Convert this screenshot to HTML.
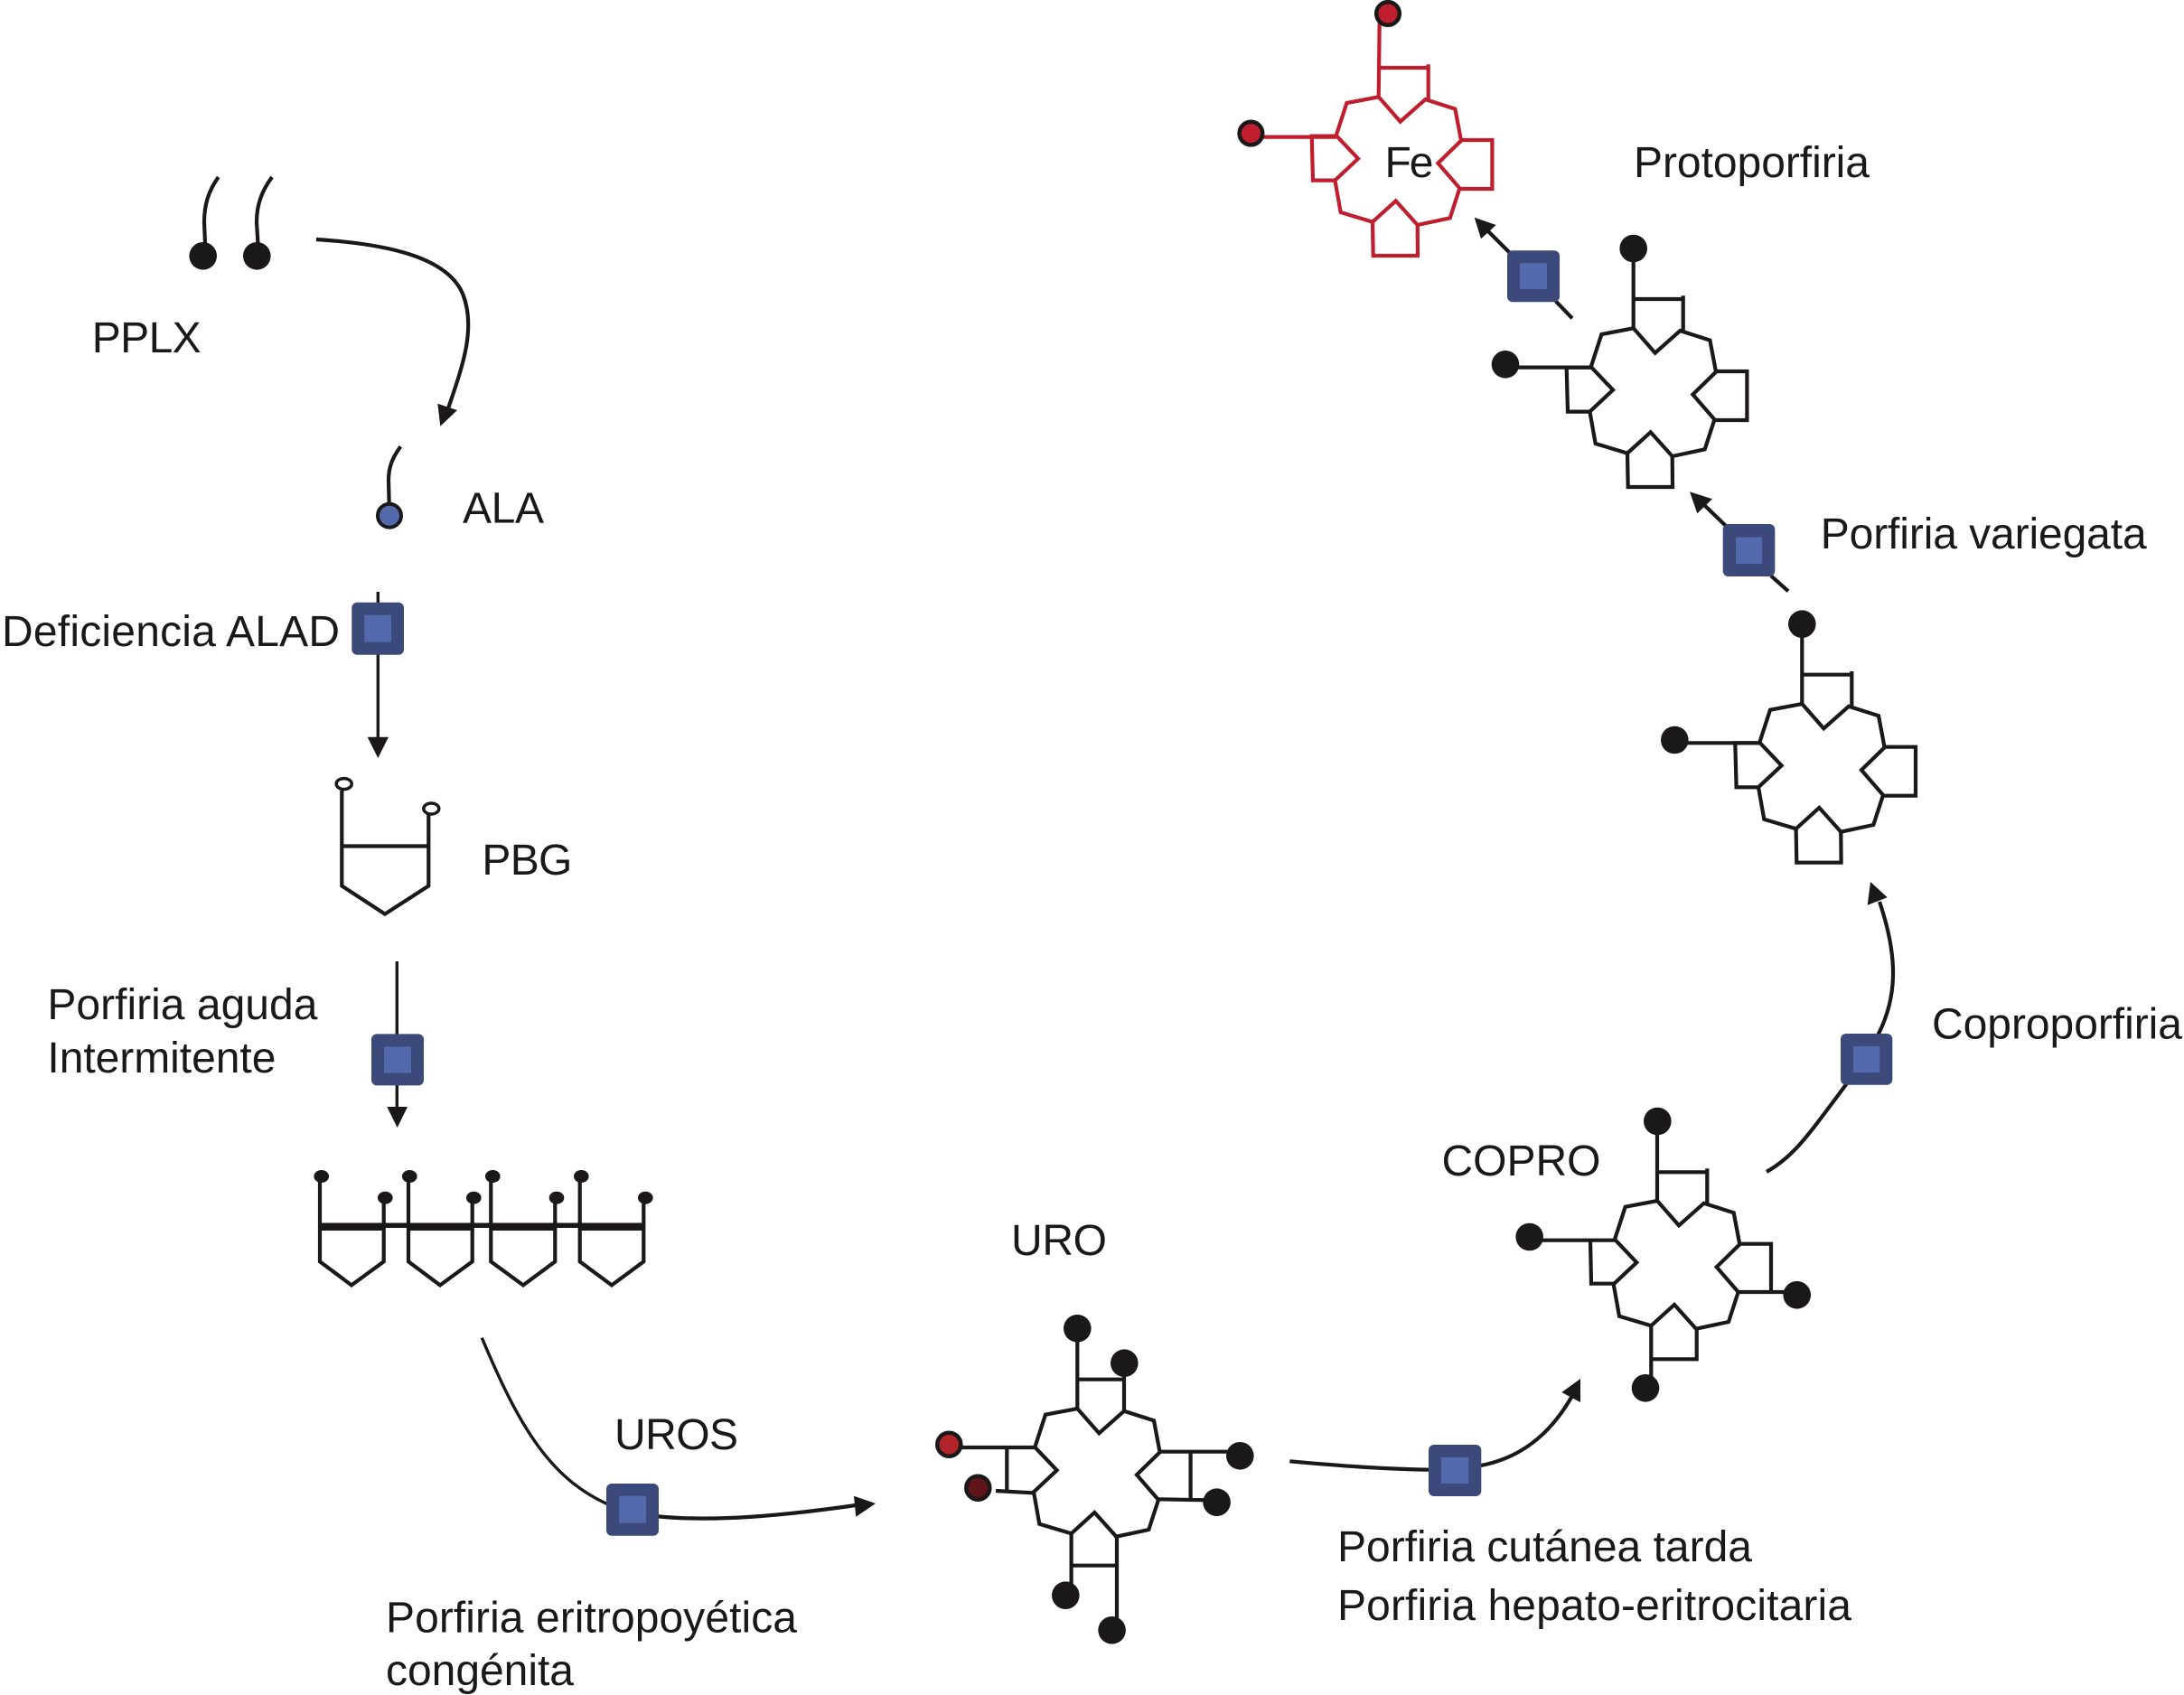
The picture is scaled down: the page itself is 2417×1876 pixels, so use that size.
<!DOCTYPE html>
<html>
<head>
<meta charset="utf-8">
<style>
html,body{margin:0;padding:0;background:#fff;}
svg{display:block;}
text{font-family:"Liberation Sans",sans-serif;font-size:48px;fill:#1a1818;}
.l{fill:none;stroke:#1a1818;stroke-width:4.2;stroke-linejoin:miter;}
.t{fill:none;stroke:#1a1818;stroke-width:3.4;}
.r{fill:none;stroke:#be1e2d;stroke-width:4.2;stroke-linejoin:miter;}
.d{fill:#1a1818;}
.o{fill:#3b4a7a;}
.i{fill:#5369ac;}
</style>
</head>
<body>
<svg width="2417" height="1876" viewBox="0 0 2417 1876" xmlns="http://www.w3.org/2000/svg">
<rect width="2417" height="1876" fill="#fff"/>
<defs>
<path id="ring" d="M0,0L24,27.3L51.7,2.7L84.7,13.3L91.3,48.3L65.7,73.3L89.7,101L79,134L43,141.7L19,115L-6.7,138.3L-42,127.7L-48.3,92.3L-22.7,68.3L-47,42.7L-35.3,6.7Z"/>
<path id="pend" d="M55,2.7V-36M0,-32.3H55M-47,43.3H-74L-72.7,92.3H-48.3M91.3,47.7H125.7V101.7H89.7M-6.7,138.3L-6,175.7H43.3L43,141.7"/>
</defs>

<!-- PPLX -->
<path class="l" d="M241.7,196C231,211 226,226 226,246L227,270"/>
<path class="l" d="M301,196C290,211 284,226 284,246L285.5,270"/>
<circle class="d" cx="224.7" cy="283.3" r="15.3"/>
<circle class="d" cx="284.3" cy="283.3" r="15.3"/>
<path class="l" d="M350,265C430,270 495,285 512,325C528,365 510,410 495,455"/>
<polygon class="d" points="484.3,446.7 506,454 487.3,471.7"/>
<text x="101.7" y="390" textLength="121">PPLX</text>

<!-- ALA -->
<path class="l" d="M443.3,494.3C434,507 430,517 430,532L430.7,558"/>
<circle cx="431" cy="570.7" r="13" fill="#5369ac" stroke="#1a1818" stroke-width="4"/>
<text x="512" y="578.3" textLength="90">ALA</text>

<!-- ALAD -->
<path class="t" d="M418.3,655V817"/>
<polygon class="d" points="406.7,815.7 430,815.7 418.3,839"/>
<rect class="o" x="389.3" y="666.7" width="57.7" height="58" rx="6"/>
<rect class="i" x="403.3" y="680.7" width="29.7" height="30"/>
<text x="2" y="715" textLength="374">Deficiencia ALAD</text>

<!-- PBG -->
<path class="l" d="M378.3,875V980.5L426,1011.6L474.3,980.5V900M378.3,936.5H474.3"/>
<ellipse cx="380.7" cy="867.6" rx="8.5" ry="6" fill="#fff" stroke="#1a1818" stroke-width="3.5"/>
<ellipse cx="477.3" cy="895" rx="8.5" ry="6" fill="#fff" stroke="#1a1818" stroke-width="3.5"/>
<text x="533.4" y="968" textLength="100">PBG</text>

<!-- PAI -->
<path class="t" d="M439.3,1064V1226"/>
<polygon class="d" points="428.3,1225 451,1225 439.7,1248"/>
<rect class="o" x="411" y="1144.4" width="58" height="57" rx="6"/>
<rect class="i" x="425" y="1158.5" width="30" height="29"/>
<text x="52.4" y="1128" textLength="299">Porfiria aguda</text>
<text x="52.4" y="1187" textLength="253">Intermitente</text>

<!-- tetrapyrrole -->
<path class="l" d="M354,1302V1396.3L389,1422.4L424.7,1396.3V1326"/>
<path class="l" d="M452,1302V1396.3L487,1422.4L522.7,1396.3V1326"/>
<path class="l" d="M543.3,1302V1396.3L579,1422.4L614.3,1396.3V1326"/>
<path class="l" d="M641.7,1302V1396.3L677,1422.4L712.3,1396.3V1326"/>
<rect class="d" x="354" y="1353.5" width="358" height="5.5"/>
<rect class="d" x="354" y="1354" width="71" height="8"/>
<rect class="d" x="452" y="1354" width="71" height="8"/>
<rect class="d" x="543.3" y="1354" width="71" height="8"/>
<rect class="d" x="641.7" y="1354" width="71" height="8"/>
<ellipse class="d" cx="355.7" cy="1302" rx="8.3" ry="7"/>
<ellipse class="d" cx="453.3" cy="1302" rx="8.3" ry="7"/>
<ellipse class="d" cx="545.3" cy="1302" rx="8.3" ry="7"/>
<ellipse class="d" cx="643.3" cy="1302" rx="8.3" ry="7"/>
<ellipse class="d" cx="426.3" cy="1325.7" rx="8.3" ry="7"/>
<ellipse class="d" cx="524.3" cy="1325.7" rx="8.3" ry="7"/>
<ellipse class="d" cx="616" cy="1325.7" rx="8.3" ry="7"/>
<ellipse class="d" cx="714.3" cy="1325.7" rx="8.3" ry="7"/>

<!-- UROS -->
<path class="t" d="M533.3,1480.7C575,1580 610,1640 680,1668"/>
<path class="l" d="M725,1678C790,1685 870,1677 947,1666"/>
<polygon class="d" points="945,1655.7 969,1664 947.3,1678.7"/>
<rect class="o" x="671" y="1642" width="58" height="57.7" rx="6"/>
<rect class="i" x="685.3" y="1655.7" width="29.7" height="30"/>
<text x="680" y="1604" textLength="137">UROS</text>
<text x="427" y="1806.6" textLength="455">Porfiria eritropoyética</text>
<text x="427" y="1865" textLength="208">congénita</text>

<!-- URO ring -->
<g transform="translate(1192.3,1559)">
<use href="#ring" class="l"/>
<path class="l" d="M0,0V-88M51.7,2.7V-50M0,-32.3H51.7M-46.7,43H-130M-78,43V92M-90.3,91L-49.7,93.3M91.3,47.7H180M125.3,47.7V100.3M89.7,100.3L154,101.5M-6.7,137.7V206M43.7,141V245M-6.7,173.7H43.7"/>
<circle class="d" cx="0" cy="-88.7" r="15.3"/>
<circle class="d" cx="52" cy="-50.3" r="15.3"/>
<circle class="d" cx="180" cy="52.3" r="15.3"/>
<circle class="d" cx="154.3" cy="103.7" r="15.3"/>
<circle class="d" cx="-13" cy="206.7" r="15.3"/>
<circle class="d" cx="38.3" cy="245.3" r="15.3"/>
<circle cx="-142" cy="39.7" r="13" fill="#b0242a" stroke="#1a1818" stroke-width="4.5"/>
<circle cx="-110" cy="87.7" r="13" fill="#5e1418" stroke="#1a1818" stroke-width="4.5"/>
</g>
<text x="1119" y="1389" textLength="106">URO</text>

<!-- PCT -->
<path class="l" d="M1427.3,1617.3C1480,1622 1530,1626 1585,1626.7"/>
<path class="l" d="M1636,1622.5C1680,1615 1715,1590 1741,1543"/>
<polygon class="d" points="1728.3,1541 1749,1526 1749,1552"/>
<rect class="o" x="1581" y="1599" width="58.3" height="57" rx="6"/>
<rect class="i" x="1595" y="1613" width="30.3" height="29"/>
<text x="1480" y="1728" textLength="459">Porfiria cutánea tarda</text>
<text x="1480" y="1793" textLength="569">Porfiria hepato-eritrocitaria</text>

<!-- COPRO ring -->
<g transform="translate(1834,1329)">
<use href="#ring" class="l"/>
<path class="l" d="M0,0V-88M55.3,2.7V-35.7M0,-31.7H55.3M-47,43.7H-141M-74,43.7L-73,91.7H-48.3M92,47.7H126V101M91,101H155M-6.7,139V200M-6.7,175.3H43.7V141.7"/>
<circle class="d" cx="0.3" cy="-88" r="15.3"/>
<circle class="d" cx="-141.3" cy="40" r="15.3"/>
<circle class="d" cx="154.7" cy="104.3" r="15.3"/>
<circle class="d" cx="-13" cy="207.3" r="15.3"/>
</g>
<text x="1595.5" y="1301" textLength="176">COPRO</text>

<!-- Coproporfiria -->
<path class="l" d="M1955,1297C1985,1280 2000,1258 2044,1199"/>
<path class="l" d="M2077,1148C2100,1105 2101,1060 2080,998"/>
<polygon class="d" points="2070,976 2088.7,993.3 2066.7,1001.7"/>
<rect class="o" x="2037" y="1144" width="57.3" height="56.7" rx="6"/>
<rect class="i" x="2051" y="1158" width="29.3" height="29"/>
<text x="2138" y="1149.3" textLength="277">Coproporfiria</text>

<!-- ring 6 -->
<g transform="translate(1994.3,779)">
<use href="#ring" class="l"/>
<use href="#pend" class="l"/>
<path class="l" d="M0,0V-88M-47,43.3H-141"/>
<circle class="d" cx="0" cy="-88.3" r="15.3"/>
<circle class="d" cx="-141" cy="40" r="15.3"/>
</g>

<!-- variegata -->
<path class="l" d="M1960,637.3L1979,654.3"/>
<path class="l" d="M1884,557L1912,584"/>
<polygon class="d" points="1870,544.3 1895,552.3 1878.3,568.3"/>
<rect class="o" x="1906.7" y="580" width="57.6" height="58" rx="6"/>
<rect class="i" x="1921" y="594.5" width="29" height="29.5"/>
<text x="2014.7" y="607" textLength="361">Porfiria variegata</text>

<!-- ring 5 -->
<g transform="translate(1807.7,363.3)">
<use href="#ring" class="l"/>
<use href="#pend" class="l"/>
<path class="l" d="M0,0V-88M-47,43.3H-141"/>
<circle class="d" cx="0" cy="-88.3" r="15.3"/>
<circle class="d" cx="-141.7" cy="40" r="15.3"/>
</g>

<!-- proto -->
<path class="l" d="M1721.7,333.3L1740,352.3"/>
<path class="l" d="M1645,254L1672,281"/>
<polygon class="d" points="1631.7,240.7 1655.7,249 1639,264.3"/>
<rect class="o" x="1668" y="277.3" width="58" height="57" rx="6"/>
<rect class="i" x="1682" y="291.3" width="30" height="28.7"/>
<text x="1808" y="196" textLength="261">Protoporfiria</text>

<!-- red ring -->
<g transform="translate(1525.7,107.3)">
<use href="#ring" class="r"/>
<use href="#pend" class="r"/>
<path class="r" d="M0,0L1,-84M-47,44.3H-140"/>
<circle cx="10.3" cy="-92.3" r="12.8" fill="#be1e2d" stroke="#1a1818" stroke-width="4.5"/>
<circle cx="-141.3" cy="40.3" r="12.8" fill="#be1e2d" stroke="#1a1818" stroke-width="4.5"/>
</g>
<text x="1532.5" y="196" textLength="54">Fe</text>
</svg>
</body>
</html>
